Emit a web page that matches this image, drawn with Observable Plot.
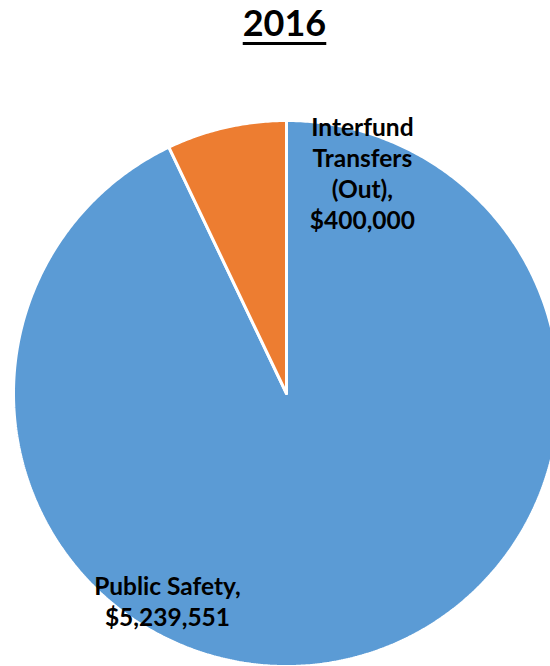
<!DOCTYPE html>
<html>
<head>
<meta charset="utf-8">
<script src="https://cdn.jsdelivr.net/npm/d3@7"></script>
<script src="https://cdn.jsdelivr.net/npm/@observablehq/plot@0.6"></script>
<style>
  html, body { margin: 0; padding: 0; background: #fff; overflow: hidden; }
  #title {
    width: 550px; height: 60px; box-sizing: border-box; padding-left: 19px;
    font-family: Lato, "Open Sans", sans-serif; font-weight: bold; font-size: 36px;
    line-height: 44px; text-align: center; color: #000;
    text-decoration: underline; text-decoration-thickness: 3px; text-underline-offset: 6px;
  }
  #chart svg { display: block; }
</style>
</head>
<body>
<div id="title">2016</div>
<div id="chart"></div>
<script>
const title = "2016";
const categories = ["Public Safety", "Interfund Transfers (Out)"];
const values = [5239551, 400000];
const labels = ["Public Safety,\n$5,239,551", "Interfund\nTransfers\n(Out),\n$400,000"];
const colors = ["#5B9BD5", "#ED7D31"];

document.getElementById("title").textContent = title;

const W = 550, H = 606, cx = 286, cy = 333, r = 273;

const arcs = d3.pie().sort(null).startAngle(0).endAngle(2 * Math.PI)(values);

function slicePoints(a) {
  const pts = [{x: 0, y: 0}];
  const n = Math.max(2, Math.ceil((a.endAngle - a.startAngle) / (Math.PI / 360)));
  for (let i = 0; i <= n; i++) {
    const t = a.startAngle + (a.endAngle - a.startAngle) * i / n;
    pts.push({x: Math.sin(t), y: Math.cos(t)});
  }
  pts.push({x: 0, y: 0});
  return pts;
}

const sliceMarks = arcs.map((a, i) =>
  Plot.line(slicePoints(a), {x: "x", y: "y", fill: colors[i], stroke: "#fff", strokeWidth: 3, strokeLinejoin: "miter", curve: "linear"})
);

const labelData = [
  {text: labels[0], x: -0.436, y: -0.758},
  {text: labels[1], x: 0.278, y: 0.81}
];

const plot = Plot.plot({
  width: W, height: H,
  margin: 0,
  x: {domain: [-1, 1], range: [cx - r, cx + r], axis: null},
  y: {domain: [-1, 1], range: [cy + r, cy - r], axis: null},
  style: {background: "#fff", overflow: "hidden"},
  marks: [
    ...sliceMarks,
    Plot.text(labelData, {
      x: "x", y: "y", text: "text",
      fontFamily: "Lato, 'Open Sans', sans-serif", fontWeight: "bold", fontSize: 24.5,
      lineHeight: 1.265, fill: "#000", textAnchor: "middle", lineAnchor: "middle"
    })
  ]
});
document.getElementById("chart").appendChild(plot);
</script>
</body>
</html>
